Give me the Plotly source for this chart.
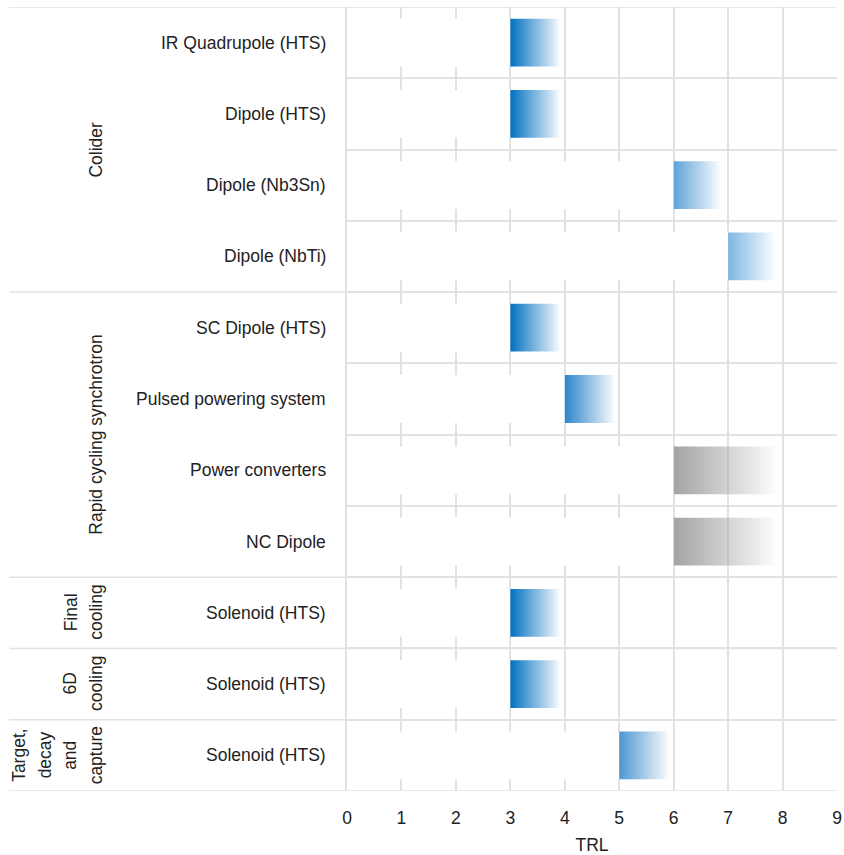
import plotly.graph_objects as go

# ---------------- data ----------------
groups = [["Colider"], ["Rapid cycling synchrotron"], ["Final", "cooling"], ["6D", "cooling"],
          ["Target,", "decay", "and", "capture"]]
group_sizes = [4, 4, 1, 1, 1]
components = ["IR Quadrupole (HTS)", "Dipole (HTS)", "Dipole (Nb3Sn)", "Dipole (NbTi)",
              "SC Dipole (HTS)", "Pulsed powering system", "Power converters", "NC Dipole",
              "Solenoid (HTS)", "Solenoid (HTS)", "Solenoid (HTS)"]
trl_start = [3, 3, 6, 7, 3, 4, 6, 6, 3, 3, 5]
trl_span = [0.9, 0.9, 0.85, 0.85, 0.9, 0.9, 1.85, 1.85, 0.9, 0.9, 0.9]
bar_rgb = [(0, 112, 192), (0, 112, 192), (95, 162, 215), (125, 182, 226),
           (0, 112, 192), (45, 133, 203), (163, 163, 163), (163, 163, 163),
           (0, 112, 192), (0, 112, 192), (78, 150, 210)]
x_ticks = list(range(0, 10))
x_title = "TRL"

# ---------------- style ----------------
GRID = "#e2e2e2"
TXT = "#222222"
FONT = "Liberation Sans"
FS = 17.5
BAR_H = 0.67
W, H = 844, 855
L_PX, R_PX, T_PX, B_PX = 347, 7, 7, 64
PLOT_W = W - L_PX - R_PX
LINE_PITCH = 25.5         # px between stacked rotated text lines
GROUP_RIGHT = 108         # right edge of group-label column (px)
LABEL_GAP = 19

n = len(components)
centers = [i + 0.5 for i in range(n)]

fig = go.Figure()

# white base bars (hide grid lines between 0 and the start value)
fig.add_trace(go.Bar(
    x=trl_start, y=centers, base=0, orientation="h", width=BAR_H,
    marker=dict(color="white", line=dict(width=0)), hoverinfo="skip", showlegend=False))

# gradient bars
for c, s, L, rgb in zip(centers, trl_start, trl_span, bar_rgb):
    r, g, b = rgb
    y0, y1 = c - BAR_H / 2, c + BAR_H / 2
    fig.add_trace(go.Scatter(
        x=[s, s + L, s + L, s, s], y=[y0, y0, y1, y1, y0],
        mode="lines", line=dict(width=0), fill="toself",
        fillgradient=dict(type="horizontal",
                          colorscale=[[0, f"rgba({r},{g},{b},1)"],
                                      [1, f"rgba({r},{g},{b},0.04)"]]),
        hoverinfo="skip", showlegend=False))

# category labels
for c, name in zip(centers, components):
    fig.add_annotation(x=-LABEL_GAP / PLOT_W, xref="paper", y=c, yref="y", text=name,
                       showarrow=False, xanchor="right", yanchor="middle",
                       font=dict(family=FONT, size=FS, color=TXT))

# group labels and group divider lines
bounds = [0]
for sz in group_sizes:
    bounds.append(bounds[-1] + sz)
for lines, b0, b1 in zip(groups, bounds[:-1], bounds[1:]):
    k = len(lines)
    for j, txt in enumerate(lines):
        right_px = GROUP_RIGHT - (k - 1 - j) * LINE_PITCH
        fig.add_annotation(x=(right_px - L_PX) / PLOT_W, xref="paper", y=(b0 + b1) / 2,
                           yref="y", text=txt, showarrow=False, textangle=-90,
                           xanchor="right", yanchor="middle",
                           font=dict(family=FONT, size=FS, color=TXT))
for b in bounds:
    fig.add_shape(type="line", xref="paper", yref="y",
                  x0=(9 - L_PX) / PLOT_W, x1=1,
                  y0=b, y1=b, line=dict(color=GRID, width=1.5), layer="below")

fig.update_layout(
    width=W, height=H, margin=dict(l=L_PX, r=R_PX, t=T_PX, b=B_PX, pad=0),
    paper_bgcolor="white", plot_bgcolor="white", barmode="overlay",
    font=dict(family=FONT, size=FS, color=TXT), showlegend=False,
    xaxis=dict(range=[0, 9], tickvals=x_ticks, ticks="", showgrid=True, gridcolor=GRID,
               gridwidth=1.5, zeroline=False, showline=False, ticklabelstandoff=14,
               ticklabeloverflow="allow",
               title=dict(text=x_title, standoff=13, font=dict(size=FS)),
               automargin=False, tickfont=dict(size=FS)),
    yaxis=dict(range=[n, 0], tickvals=list(range(n + 1)), showticklabels=False,
               ticks="", showgrid=True, gridcolor=GRID, gridwidth=1.5, zeroline=False,
               showline=True, linecolor=GRID, linewidth=1.5, layer="above traces",
               automargin=False),
)

fig.write_html("out.html", config={"displayModeBar": False},
               post_script="document.body.style.margin='0px';"
                           "document.body.style.overflow='hidden';")
